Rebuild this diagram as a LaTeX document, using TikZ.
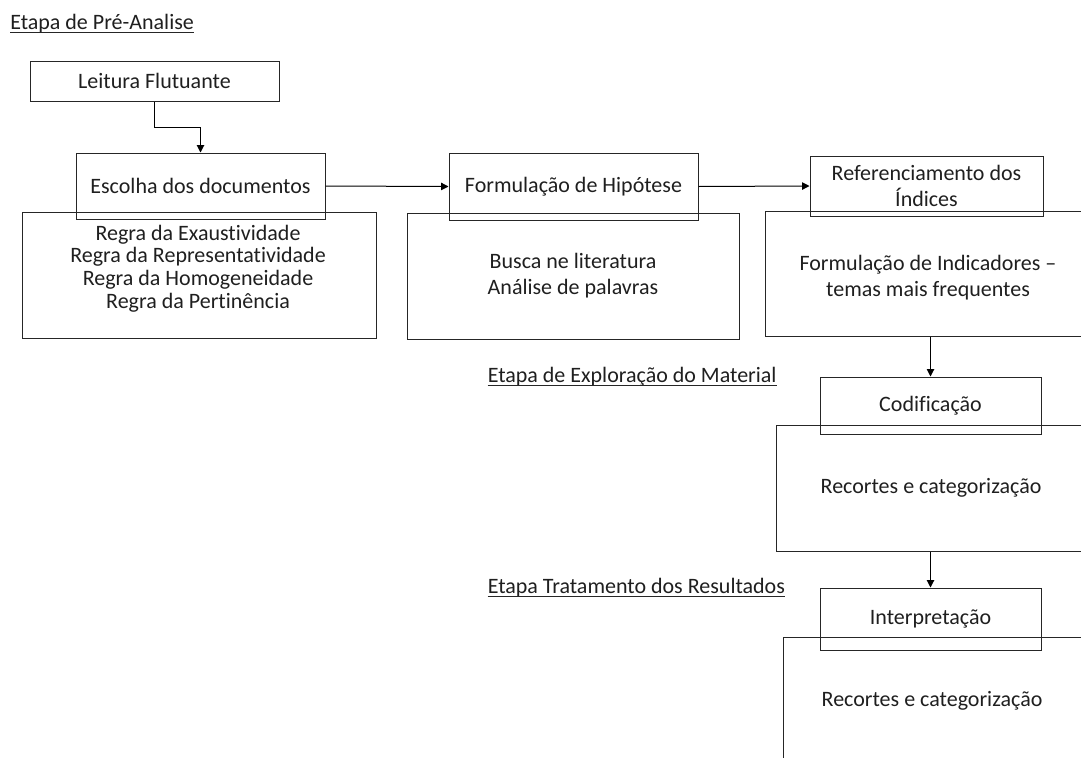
\documentclass[tikz,border=0pt]{standalone}
\usepackage{fontspec}
\setmainfont{Carlito}[Ligatures=CommonOff]
\usetikzlibrary{arrows.meta}
\begin{document}
\begin{tikzpicture}[x=0.75pt,y=-0.75pt,
  every node/.style={font=\fontsize{16.5}{19.5}\selectfont, text=black!88},
  box/.style 2 args={draw=black!85, line width=0.75pt, inner sep=0pt, align=center,
    minimum width={#1*0.75pt}, minimum height={#2*0.75pt}},
  txt/.style={inner sep=0pt, align=center},
  title/.style={inner sep=0pt, anchor=base west},
  uline/.style={draw=black!85, line width=0.75pt},
  arr/.style={draw=black, line width=0.75pt, -{Triangle[length=5.5pt,width=5.5pt]}}]
\useasboundingbox (0,0) rectangle (1081,757);
\clip (0,0) rectangle (1081,757);
% titles
\node[title] (t1) at (10,29.5) {Etapa de Pré-Analise};
\draw[uline] ([yshift=-2.6pt]t1.base west) -- ([yshift=-2.6pt]t1.base east);
\node[title] (t2) at (487.5,382) {Etapa de Exploração do Material};
\draw[uline] ([yshift=-2.6pt]t2.base west) -- ([yshift=-2.6pt]t2.base east);
\node[title] (t3) at (487.5,593) {Etapa Tratamento dos Resultados};
\draw[uline] ([yshift=-2.6pt]t3.base west) -- ([yshift=-2.6pt]t3.base east);
% boxes
\node[box={249}{40}] (leitura) at (154.5,81) {Leitura Flutuante};
\node[box={249}{66}] (escolha) at (200.5,186) {Escolha dos documentos};
\node[box={354}{126}] (regras) at (199,275) {};
\node[txt, font=\fontsize{16.5}{17}\selectfont] (regrast) at (198,268.5)
  {Regra da Exaustividade\\Regra da Representatividade\\Regra da Homogeneidade\\Regra da Pertinência};
\node[box={249}{67}] (form) at (573.5,186.5) {Formulação de Hipótese};
\node[box={332}{126}] (busca) at (573,276) {Busca ne literatura\\Análise de palavras};
\node[box={233}{60}] (ref) at (926.5,186) {Referenciamento dos\\Índices};
\node[box={330}{125}] (ind) at (930,273.5) {};
\node[txt] (indt) at (928,278) {Formulação de Indicadores –\\temas mais frequentes};
\node[box={221}{57}] (cod) at (930.5,405.5) {Codificação};
\node[box={310}{126}] (rec) at (931,488) {Recortes e categorização};
\node[box={221}{62}] (interp) at (930.5,619) {Interpretação};
\node[box={307}{150}] (res) at (936.5,712) {};
\node[txt] (rest) at (932,701) {Recortes e categorização};
% connectors
\draw[arr] (leitura.south) -- ++(0,26) -| (escolha.north);
\draw[arr] (escolha.east) -- (form.west);
\draw[arr] (form.east) -- (ref.west);
\draw[arr] (cod.north |- ind.south) -- (cod.north);
\draw[arr] (interp.north |- rec.south) -- (interp.north);
\end{tikzpicture}
\end{document}
